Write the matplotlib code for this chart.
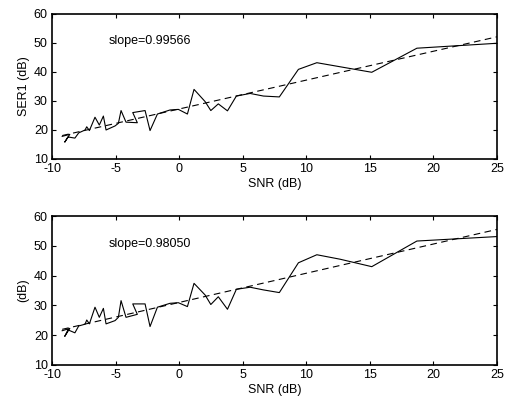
import matplotlib

matplotlib.use("Agg")
import matplotlib.pyplot as plt
import numpy as np

plt.rcParams["font.family"] = ["Liberation Sans", "DejaVu Sans"]
plt.rcParams["axes.unicode_minus"] = False

# SNR sample positions (same for both panels, in plotting order)
snr = [-9.2, -8.6, -9.0, -8.75, -8.2, -7.9, -7.4, -7.27, -7.06, -6.62, -6.28,
       -5.96, -5.75, -5.04, -4.78, -4.57, -4.18, -3.29, -3.65, -2.68, -2.29,
       -1.71, -0.72, -0.06, 0.65, 1.17, 2.04, 2.49, 3.08, 3.8, 4.5, 5.58,
       6.63, 7.88, 9.38, 10.83, 12.66, 15.15, 18.7, 25.0]

ser1 = [17.8, 18.5, 15.8, 17.6, 17.2, 19.0, 20.0, 21.1, 19.8, 24.4, 21.7,
        24.8, 20.0, 21.4, 22.3, 26.7, 22.7, 22.5, 26.0, 26.7, 19.8,
        25.5, 26.9, 27.1, 25.5, 34.0, 29.8, 26.7, 29.0, 26.6, 31.7, 32.6,
        31.7, 31.4, 40.9, 43.2, 41.8, 39.9, 48.2, 49.9]

ser2 = [21.5, 22.3, 19.6, 21.8, 20.8, 23.1, 23.7, 25.1, 23.8, 29.4, 26.0,
        29.0, 23.8, 24.9, 26.0, 31.6, 26.0, 27.0, 30.5, 30.5, 22.9,
        29.4, 30.7, 30.9, 29.6, 37.4, 33.5, 30.3, 32.9, 28.7, 35.4, 36.1,
        35.2, 34.3, 44.3, 47.0, 45.5, 43.0, 51.6, 53.1]

slopes = [0.99566, 0.98050]
ylabels = ["SER1 (dB)", "(dB)"]
xticks = [-10, -5, 0, 5, 10, 15, 20, 25]
yticks = [10, 20, 30, 40, 50, 60]

fig = plt.figure(figsize=(5.09, 4.03), dpi=100)
axes = [fig.add_axes([0.1022, 0.6055, 0.8742, 0.3598]),
        fig.add_axes([0.1022, 0.0943, 0.8742, 0.3697])]

for ax, ser, slope, ylab in zip(axes, [ser1, ser2], slopes, ylabels):
    x = np.array(snr)
    y = np.array(ser)
    ax.plot(x, y, color="black", lw=0.8)

    # least-squares fit with the slope given in the label
    intercept = np.mean(y - slope * x)
    xf = np.array([min(snr), max(snr)])
    ax.plot(xf, intercept + slope * xf, color="black", lw=0.8,
            linestyle=(0, (6, 4)))

    ax.text(-5.55, 50.6, f"slope={slope:.5f}", fontsize=9, va="center")

    ax.set_xlim(-10, 25)
    ax.set_ylim(10, 60)
    ax.set_xticks(xticks)
    ax.set_yticks(yticks)
    ax.tick_params(direction="in", top=True, right=True, labelsize=9,
                   length=3, width=0.8)
    ax.tick_params(axis="x", pad=3)
    ax.tick_params(axis="y", pad=3)
    for s in ax.spines.values():
        s.set_linewidth(1.2)
    ax.set_xlabel("SNR (dB)", fontsize=9, labelpad=2)
    ax.set_ylabel(ylab, fontsize=9, labelpad=3)

fig.savefig("out.png", dpi=100)
